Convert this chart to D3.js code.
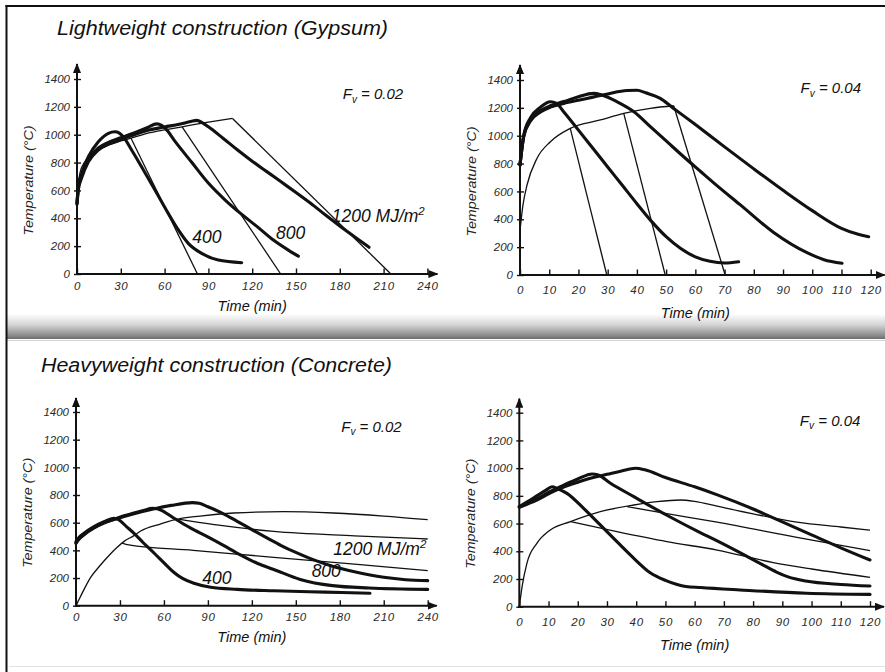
<!DOCTYPE html>
<html>
<head>
<meta charset="utf-8">
<script src="https://cdn.jsdelivr.net/npm/d3@7"></script>
<style>
  body { margin: 0; background: #fff; }
  svg text { font-family: "Liberation Sans", Arial, Helvetica, sans-serif; font-style: italic; }
</style>
</head>
<body>
<svg id="chart" width="885" height="672"></svg>
<script>
// ---------- data (time in min, temperature in degC) ----------

const tempTicks = [0, 200, 400, 600, 800, 1000, 1200, 1400];
const ticks240 = [0, 30, 60, 90, 120, 150, 180, 210, 240];
const ticks120 = [0, 10, 20, 30, 40, 50, 60, 70, 80, 90, 100, 110, 120];

// lightweight (gypsum), Fv = 0.02
const gyp02Thick400 = [[0,507],[1,640],[3.2,720],[7.8,842],[14.6,949],[21.5,1010],[26,1021],[29,1012],[31.7,985],[37.4,890],[44.2,770],[53.4,603],[62.5,435],[69.4,316],[76.2,220],[85.4,148],[96.8,100],[112.8,81]];
const gyp02Thick800 = [[0,510],[1,625],[3.2,705],[7.8,822],[14.6,905],[21.5,945],[30,978],[40,1017],[48,1050],[54.6,1078],[58,1068],[61,1040],[67.3,950],[78.7,800],[90.1,651],[101.5,531],[112,435],[124,335],[134.5,244],[145,170],[151.6,128]];
const gyp02Thick1200 = [[0,500],[1,610],[3.2,690],[7.8,805],[14.6,890],[21.5,932],[30,965],[40,1003],[50,1035],[60,1056],[70,1075],[78,1095],[82,1103],[86,1085],[90,1057],[100,975],[110,890],[120,810],[130,735],[140,660],[150,585],[160,508],[170,425],[180,345],[190,268],[200,192]];
const gyp02ThinRise = [[0,570],[2,725],[5,800],[10,860],[20,918],[30,955],[37,975],[50,1015],[60,1035],[72,1057],[90,1090],[106.5,1117]];
const gyp02ThinDrop400 = [[37,975],[82.5,0]];
const gyp02ThinDrop800 = [[72,1057],[139.5,0]];
const gyp02ThinDrop1200 = [[106.5,1117],[215,0]];

// lightweight (gypsum), Fv = 0.04
const gyp04Thick400 = [[0,790],[1.3,1005],[3.6,1130],[7,1205],[10.4,1244],[12.5,1232],[15,1170],[20,1040],[25,908],[30,776],[35,644],[40,512],[45,385],[50,275],[55,190],[60,130],[65,98],[70,86],[74.8,95]];
const gyp04Thick800 = [[0,790],[1.3,1000],[3.6,1115],[7,1180],[10.4,1215],[15,1245],[20,1280],[25.2,1304],[28,1292],[33.2,1244],[39,1172],[44.6,1065],[50.3,957],[56,849],[61.7,745],[67.5,640],[75.3,505],[86.8,305],[98.2,160],[104,110],[110.2,84]];
const gyp04Thick1200 = [[0,790],[1.3,995],[3.6,1105],[7,1170],[10.4,1205],[15,1232],[20,1255],[25,1277],[30,1300],[36.6,1325],[40,1326],[43,1308],[48,1268],[52,1205],[60,1080],[70,920],[80,762],[90,608],[100,462],[110,335],[116,290],[119.3,275]];
const gyp04ThinRise = [[0,320],[1,500],[2.4,646],[5.8,837],[10.4,957],[17.2,1053],[27.5,1113],[35.5,1161],[44.6,1197],[52.6,1215]];
const gyp04ThinDrop400 = [[17.2,1053],[29.7,0]];
const gyp04ThinDrop800 = [[35.5,1161],[49.7,0]];
const gyp04ThinDrop1200 = [[52.6,1215],[70.2,0]];

// heavyweight (concrete), Fv = 0.02
const con02Thick400 = [[0,463],[2,492],[5.5,523],[12.3,571],[19.1,607],[25.9,632],[29,622],[34.6,570],[39.6,523],[45.9,455],[53.4,379],[61.9,290],[66.9,240],[73,195],[80.5,162],[91.9,133],[110,118],[135,108],[170,98],[200.6,90]];
const con02Thick800 = [[0,455],[2,485],[5.5,518],[12.3,565],[19.1,600],[25.9,625],[32.8,650],[39.6,670],[46,688],[52.1,704],[56,699],[66.9,632],[78,562],[89.6,499],[100,440],[112.4,366],[124,305],[135,262],[153,190],[175,145],[200,128],[240,118]];
const con02Thick1200 = [[0,450],[2,480],[5.5,513],[12.3,562],[19.1,597],[25.9,622],[32.8,645],[39.6,665],[52,697],[65,725],[79.4,745],[84,740],[90,715],[100,668],[110,610],[120,550],[130,492],[140,435],[150,385],[160,340],[175,285],[190,245],[210,205],[225,188],[240,181]];
const con02ThinRise = [[0,0],[3,65],[10,205],[16,285],[21.4,350],[27.9,420],[32.8,465],[39.3,505],[44.2,540],[57.5,590],[66.9,620],[84.6,648],[107.4,670],[141.7,680],[175.6,670],[210,648],[240,622]];
const con02ThinDrop400 = [[31.5,453],[36,440],[80,400],[135,350],[190,300],[240,253]];
const con02ThinDrop800 = [[70,626],[100,578],[135,537],[190,505],[240,482]];

// heavyweight (concrete), Fv = 0.04
const con04Thick400 = [[0,722],[3,760],[6,800],[9,840],[11.2,866],[13,852],[16.3,818],[22,710],[27.7,590],[33.4,469],[39.2,349],[44.8,245],[50,190],[54,160],[57,146],[62,138],[75.5,121],[98.3,97],[120,89]];
const con04Thick800 = [[0,720],[3,748],[6,778],[11,835],[15,875],[20,922],[24.9,958],[27,950],[31.2,891],[39.2,794],[50.5,660],[61.9,535],[67.7,475],[75.5,390],[83,305],[88,250],[92,215],[98,185],[110,160],[120,149]];
const con04Thick1200 = [[0,718],[3,743],[6,770],[11,826],[15,862],[20,898],[25,930],[30,955],[35,980],[39.7,999],[43,988],[50,932],[60,865],[68,805],[80,705],[90,612],[100,518],[110,425],[120,337]];
const con04ThinRise = [[0,0],[1,150],[2.6,313],[6,457],[10.6,554],[17.5,614],[27.7,686],[39.2,734],[47.1,758],[55.1,770],[60,760],[67.7,725],[80,670],[95,610],[110,575],[120,553]];
const con04ThinDrop400 = [[17.5,614],[33.4,541],[50.5,469],[67.7,409],[86.9,318],[100,272],[120,212]];
const con04ThinDrop800 = [[36.9,722],[50.5,672],[67.7,610],[95,500],[120,404]];

// ----------

const INK = "#111";
const TICK_INK = "#2a2a2a";
const THICK = 3.1;
const THIN = 1.3;

const svg = d3.select("#chart");

function series(pts, thick, straight) {
  return { pts: pts, thick: thick, curve: straight ? d3.curveLinear : d3.curveMonotoneX };
}

const panels = [
  {
    left: 77, right: 427.4, bottom: 274, top: 79, tMax: 240, xTicks: ticks240,
    xLabelOff: 12, xTitleOff: 37, arrowX: 10, arrowY: 15,
    fv: "0.02", fvAt: [182, 1256],
    notes: [{ text: "400", at: [79, 220] }, { text: "800", at: [136.3, 251] }, { text: "1200 MJ/m", sup: "2", at: [174.5, 375] }],
    series: [
      series(gyp02ThinRise, false), series(gyp02ThinDrop400, false, true),
      series(gyp02ThinDrop800, false, true), series(gyp02ThinDrop1200, false, true),
      series(gyp02Thick400, true), series(gyp02Thick800, true), series(gyp02Thick1200, true)
    ]
  },
  {
    left: 520, right: 870.7, bottom: 275, top: 80, tMax: 120, xTicks: ticks120,
    xLabelOff: 15, xTitleOff: 43, arrowX: 14, arrowY: 15,
    fv: "0.04", fvAt: [96, 1304],
    notes: [],
    series: [
      series(gyp04ThinRise, false), series(gyp04ThinDrop400, false, true),
      series(gyp04ThinDrop800, false, true), series(gyp04ThinDrop1200, false, true),
      series(gyp04Thick400, true), series(gyp04Thick800, true), series(gyp04Thick1200, true)
    ]
  },
  {
    left: 76, right: 427.7, bottom: 605.7, top: 412, tMax: 240, xTicks: ticks240,
    xLabelOff: 11.6, xTitleOff: 36, arrowX: 9, arrowY: 14,
    fv: "0.02", fvAt: [181, 1258],
    notes: [{ text: "400", at: [86.2, 157] }, { text: "800", at: [160.8, 210] }, { text: "1200 MJ/m", sup: "2", at: [175.6, 366] }],
    series: [
      series(con02ThinRise, false), series(con02ThinDrop400, false), series(con02ThinDrop800, false),
      series(con02Thick400, true), series(con02Thick800, true), series(con02Thick1200, true)
    ]
  },
  {
    left: 519.3, right: 870, bottom: 606.7, top: 412.7, tMax: 120, xTicks: ticks120,
    xLabelOff: 15.7, xTitleOff: 43, arrowX: 14, arrowY: 14,
    fv: "0.04", fvAt: [96, 1307],
    notes: [],
    series: [
      series(con04ThinRise, false), series(con04ThinDrop400, false), series(con04ThinDrop800, false),
      series(con04Thick400, true), series(con04Thick800, true), series(con04Thick1200, true)
    ]
  }
];

// ---------- frame ----------

const defs = svg.append("defs");
const grad = defs.append("linearGradient").attr("id", "band").attr("x1", 0).attr("y1", 0).attr("x2", 0).attr("y2", 1);
grad.append("stop").attr("offset", "0%").attr("stop-color", "#ffffff");
grad.append("stop").attr("offset", "45%").attr("stop-color", "#d2d2d2");
grad.append("stop").attr("offset", "85%").attr("stop-color", "#8c8c8c");
grad.append("stop").attr("offset", "100%").attr("stop-color", "#6c6c6c");

defs.append("marker")
  .attr("id", "arrow")
  .attr("viewBox", "0 0 10 8")
  .attr("refX", 9).attr("refY", 4)
  .attr("markerWidth", 10).attr("markerHeight", 8)
  .attr("markerUnits", "userSpaceOnUse")
  .attr("orient", "auto")
  .append("path").attr("d", "M0,0L10,4L0,8Z").attr("fill", INK);

svg.append("rect").attr("width", 885).attr("height", 672).attr("fill", "#fff");
svg.append("rect").attr("x", 7).attr("y", 314).attr("width", 878).attr("height", 25).attr("fill", "url(#band)");
svg.append("line").attr("x1", 7).attr("x2", 885).attr("y1", 340.5).attr("y2", 340.5).attr("stroke", "#d4d4d4");
svg.append("line").attr("x1", 9).attr("x2", 885).attr("y1", 666.5).attr("y2", 666.5).attr("stroke", "#e2e2e2");
svg.append("line").attr("x1", 6.5).attr("x2", 6.5).attr("y1", 5).attr("y2", 672).attr("stroke", INK).attr("stroke-width", 2);
svg.append("line").attr("x1", 5.5).attr("x2", 885).attr("y1", 6).attr("y2", 6).attr("stroke", INK).attr("stroke-width", 2);

svg.append("text").attr("x", 57).attr("y", 35).attr("font-size", 19.5)
  .attr("textLength", 331).attr("lengthAdjust", "spacingAndGlyphs").attr("fill", INK)
  .text("Lightweight construction (Gypsum)");
svg.append("text").attr("x", 41).attr("y", 372).attr("font-size", 19.5)
  .attr("textLength", 351).attr("lengthAdjust", "spacingAndGlyphs").attr("fill", INK)
  .text("Heavyweight construction (Concrete)");

// ---------- panels ----------

function drawPanel(p) {
  const x = d3.scaleLinear().domain([0, p.tMax]).range([p.left, p.right]);
  const y = d3.scaleLinear().domain([0, 1400]).range([p.bottom, p.top]);
  const g = svg.append("g");

  // axes
  const gx = g.append("g")
    .attr("transform", "translate(0," + p.bottom + ")")
    .call(d3.axisBottom(x).tickValues(p.xTicks).tickFormat(d3.format("d"))
      .tickSizeInner(-5.5).tickSizeOuter(0).tickPadding(p.xLabelOff - 4.1));
  const gy = g.append("g")
    .attr("transform", "translate(" + p.left + ",0)")
    .call(d3.axisLeft(y).tickValues(tempTicks).tickFormat(d3.format("d"))
      .tickSizeInner(-4).tickSizeOuter(0).tickPadding(7));

  [gx, gy].forEach(function (a) {
    a.select(".domain").remove();
    a.attr("font-family", null).attr("font-size", 11.5);
    a.selectAll("line").attr("stroke", INK).attr("stroke-width", 1.4);
    a.selectAll("text").attr("fill", TICK_INK);
  });
  gx.selectAll("text").attr("letter-spacing", 0.7);
  gy.selectAll(".tick line").attr("x1", -3).attr("x2", 4);

  g.append("line")
    .attr("x1", p.left - 1).attr("x2", p.right + p.arrowX)
    .attr("y1", p.bottom).attr("y2", p.bottom)
    .attr("stroke", INK).attr("stroke-width", 2).attr("marker-end", "url(#arrow)");
  g.append("line")
    .attr("x1", p.left).attr("x2", p.left)
    .attr("y1", p.bottom + 1).attr("y2", p.top - p.arrowY)
    .attr("stroke", INK).attr("stroke-width", 2).attr("marker-end", "url(#arrow)");

  // axis titles
  g.append("text")
    .attr("x", (p.left + p.right) / 2).attr("y", p.bottom + p.xTitleOff)
    .attr("text-anchor", "middle").attr("font-size", 14.5).attr("fill", INK)
    .text("Time (min)");
  const cy = (p.bottom + p.top) / 2 + 4;
  g.append("text")
    .attr("transform", "translate(" + (p.left - 44) + "," + cy + ") rotate(-90)")
    .attr("text-anchor", "middle").attr("font-size", 12.5)
    .attr("textLength", 110).attr("lengthAdjust", "spacingAndGlyphs")
    .attr("fill", "#222")
    .text("Temperature (\u00B0C)");

  // curves
  p.series.forEach(function (s) {
    const line = d3.line()
      .x(function (d) { return x(d[0]); })
      .y(function (d) { return y(d[1]); })
      .curve(s.curve);
    g.append("path")
      .datum(s.pts)
      .attr("d", line)
      .attr("fill", "none")
      .attr("stroke", INK)
      .attr("stroke-width", s.thick ? THICK : THIN)
      .attr("stroke-linejoin", "round")
      .attr("stroke-linecap", s.thick ? "round" : "butt");
  });

  // F_v label
  const fv = g.append("text")
    .attr("x", x(p.fvAt[0])).attr("y", y(p.fvAt[1]))
    .attr("font-size", 15).attr("fill", INK);
  fv.append("tspan").text("F");
  fv.append("tspan").attr("dy", 3.5).attr("font-size", 10).text("v");
  fv.append("tspan").attr("dy", -3.5).text(" = " + p.fv);

  // curve labels
  p.notes.forEach(function (n) {
    const t = g.append("text")
      .attr("x", x(n.at[0])).attr("y", y(n.at[1]))
      .attr("font-size", 17.5).attr("fill", INK)
      .text(n.text);
    if (n.sup) {
      t.append("tspan").attr("dy", -7).attr("font-size", 11.5).text(n.sup);
    }
  });
}

panels.forEach(drawPanel);
</script>
</body>
</html>
